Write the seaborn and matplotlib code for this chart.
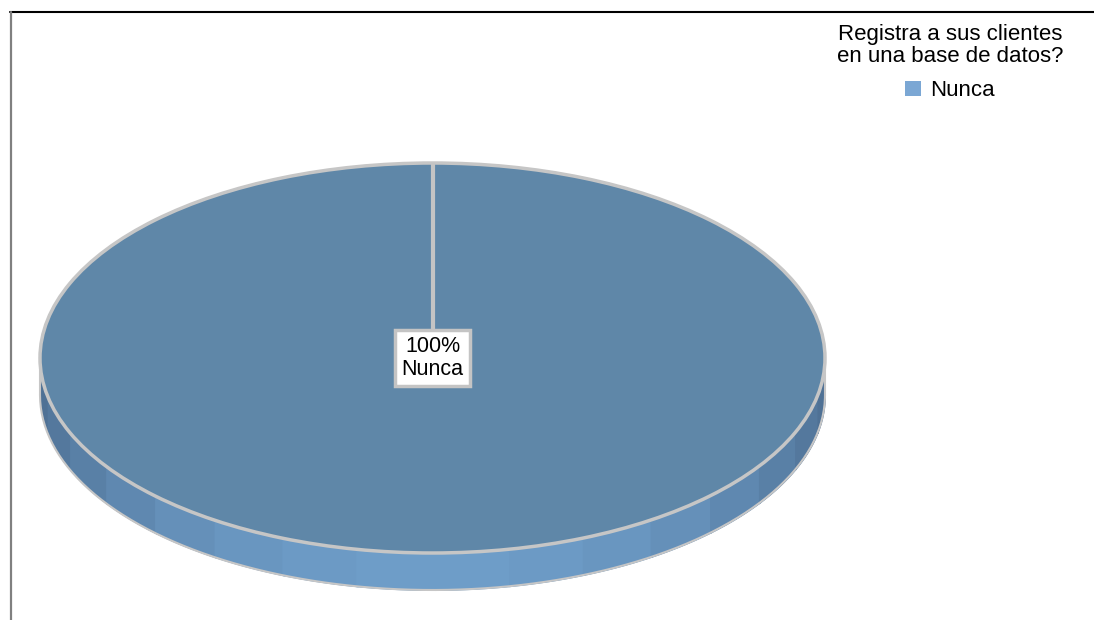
import numpy as np
import matplotlib
matplotlib.use('Agg')
import matplotlib.pyplot as plt
import seaborn as sns
from matplotlib.patches import Patch
from matplotlib.colors import to_rgb

# data
categories = ['Nunca']
values = [100]
legend_title = 'Registra a sus clientes\nen una base de datos?'

top_color = '#5F87A8'
legend_color = '#7BA7D4'
side_dark = np.array(to_rgb('#4D6F92'))
side_light = np.array(to_rgb('#6E9DC8'))
edge_gray = '#C6C6C6'

sns.set_style('white')
plt.rcParams['font.family'] = ['Liberation Sans', 'DejaVu Sans']
plt.rcParams['text.color'] = 'black'

W, H = 1094, 620
fig = plt.figure(figsize=(W / 100, H / 100), dpi=100)

# frame lines (pixel coords)
bg = fig.add_axes([0, 0, 1, 1])
bg.set_xlim(0, W)
bg.set_ylim(H, 0)
bg.axis('off')
bg.plot([10, W], [12, 12], color='black', lw=1.5)
bg.plot([10.5, 10.5], [12, H], color='#808080', lw=1.6)

# pie axes, stretched so the circle becomes an ellipse
cx, cy, rx, ry = 432.5, 358, 392.5, 195
depth = 37 / ry
xl = (-1.02, 1.02)
yl = (-1 - depth - 0.06, 1.02)
left = cx + xl[0] * rx
width = (xl[1] - xl[0]) * rx
top = cy - yl[1] * ry
height = (yl[1] - yl[0]) * ry
ax = fig.add_axes([left / W, 1 - (top + height) / H, width / W, height / H])

# side of the 3d pie, banded shading
edges = np.linspace(np.pi, 2 * np.pi, 17)
for t0, t1 in zip(edges[:-1], edges[1:]):
    ts = np.linspace(t0, t1 + 0.005, 30)
    w = (-np.sin((t0 + t1) / 2)) ** 1.3
    c = side_dark + (side_light - side_dark) * w
    ax.fill_between(np.cos(ts), np.sin(ts) - depth, np.sin(ts), color=c, lw=0.6, ec=c)
tt = np.linspace(np.pi, 2 * np.pi, 200)
ax.plot(np.cos(tt), np.sin(tt) - depth, color=edge_gray, lw=1.5)
ax.plot([-1, -1], [0, -depth], color=edge_gray, lw=1.5)
ax.plot([1, 1], [0, -depth], color=edge_gray, lw=1.5)

start = 90
wedges, texts, autotexts = ax.pie(
    values, colors=[top_color], startangle=start, counterclock=False, radius=1,
    wedgeprops=dict(edgecolor=edge_gray, linewidth=2.5),
    autopct=lambda p: f'{p:.0f}%\n{categories[0]}', pctdistance=0,
    textprops=dict(fontsize=15.5, color='black'))
# radial edge of the single 100% slice
a = np.deg2rad(start)
ax.plot([0, np.cos(a)], [0, np.sin(a)], color='#C4C4C4', lw=3, zorder=3,
        solid_capstyle='butt')
for t in autotexts:
    t.set_linespacing(1.15)
    t.set_zorder(5)
    t.set_bbox(dict(boxstyle='square,pad=0.28', fc='white', ec='#C4C4C4', lw=2.5))
ax.set_aspect('auto')
ax.set_xlim(*xl)
ax.set_ylim(*yl)
ax.axis('off')

handles = [Patch(facecolor=legend_color, edgecolor='none', label=c) for c in categories]
leg = fig.legend(handles=handles, title=legend_title, loc='upper center',
                 bbox_to_anchor=(950 / W, 1 - 6 / H), frameon=False,
                 fontsize=16, title_fontsize=16, handlelength=0.7,
                 handleheight=0.7, handletextpad=0.4, borderpad=0.3,
                 labelspacing=0.3)
leg.get_title().set_multialignment('center')
leg.get_title().set_linespacing(1.05)
leg._legend_box.sep = 10

fig.savefig('out.png', dpi=100)
